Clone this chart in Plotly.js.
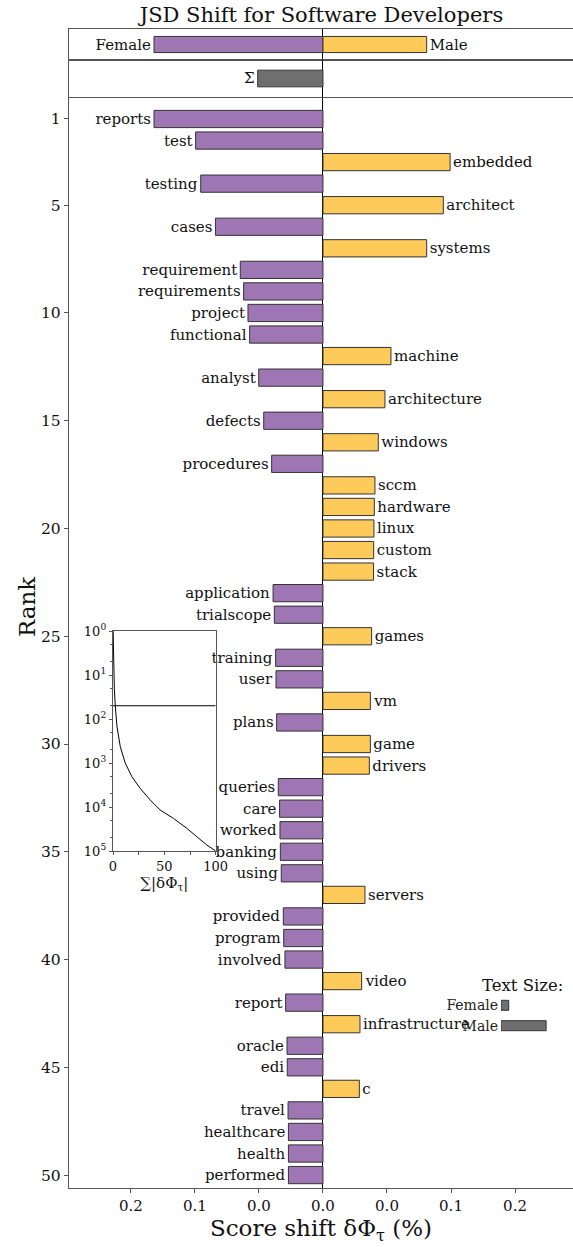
<!DOCTYPE html>
<html><head><meta charset="utf-8">
<script src="https://cdn.plot.ly/plotly-3.0.1.min.js"></script>
<style>html,body{margin:0;padding:0;background:#fff}</style>
</head><body><div id="chart" style="width:573px;height:1247px"></div>
<script>
// ---- data ----
const words = ["reports","test","embedded","testing","architect","cases","systems","requirement","requirements","project",
  "functional","machine","analyst","architecture","defects","windows","procedures","sccm","hardware","linux",
  "custom","stack","application","trialscope","games","training","user","vm","plans","game",
  "drivers","queries","care","worked","banking","using","servers","provided","program","involved",
  "video","report","infrastructure","oracle","edi","c","travel","healthcare","health","performed"];
// signed score shift (%): negative = Female, positive = Male
const shifts = [-0.132,-0.0995,0.0993,-0.0955,0.094,-0.084,0.081,-0.0646,-0.062,-0.0586,
  -0.0573,0.0531,-0.0502,0.0484,-0.0463,0.0432,-0.0401,0.0406,0.0401,0.0398,
  0.0396,0.0395,-0.039,-0.038,0.038,-0.037,-0.0367,0.037,-0.0362,0.037,
  0.0362,-0.0349,-0.0339,-0.0336,-0.0333,-0.0326,0.0328,-0.031,-0.0307,-0.0297,
  0.0302,-0.0292,0.0289,-0.0281,-0.0279,0.0284,-0.0273,-0.027,-0.027,-0.027];
const ranks = words.map((w,i)=>i+1);

const totalLabels = ["Female","Male"];
const totalShifts = [-0.132, 0.081];
const sumLabel = ["Σ"];
const sumShift = [-0.051];

const xTickVals = [-0.15,-0.1,-0.05,0,0.05,0.1,0.15];
const xTickText = ["0.2","0.1","0.0","0.0","0.0","0.1","0.2"];
const rankTicks = [1,5,10,15,20,25,30,35,40,45,50];

// inset: cumulative |shift| (%) vs rank
const cumRank = [1,2,3,5,9,20,50,150,426,1000,2050,3780,6930,11700,18100,30400,47300,73000,100000];
const cumShift = [0.13,0.23,0.33,0.52,0.8,1.3,2.2,3.9,7.1,11.9,18.4,26.5,36.2,45.9,58.8,71.8,81.6,91.3,100];
const insetYTicks = [1,10,100,1000,10000,100000];
const insetYText = ["10<sup>0</sup>","10<sup>1</sup>","10<sup>2</sup>","10<sup>3</sup>","10<sup>4</sup>","10<sup>5</sup>"];

const sizeLabels = ["Female","Male"];
const sizeValues = [1, 5.85];

// ---- styles ----
const PURPLE = "#9e76b4", YELLOW = "#fecb5b", GRAY = "#6f6f6f", EDGE = "#333333";
const FONT = "DejaVu Serif";
const W = 573, H = 1247;
const px = v => v / W, py = v => 1 - v / H;

const colors = shifts.map(v => v < 0 ? PURPLE : YELLOW);
const LBL = {family:FONT, size:15, color:"#111"};

const traces = [
  { type:"bar", orientation:"h", x:shifts, y:ranks, text:words, textposition:"outside",
    marker:{color:colors, line:{color:EDGE, width:1}}, width:0.8, cliponaxis:false,
    constraintext:"none", outsidetextfont:LBL, xaxis:"x", yaxis:"y", hoverinfo:"skip" },
  { type:"bar", orientation:"h", x:totalShifts, y:[0,0], text:totalLabels, textposition:"outside",
    marker:{color:[PURPLE,YELLOW], line:{color:EDGE, width:1}}, width:0.52, cliponaxis:false,
    constraintext:"none", outsidetextfont:LBL, xaxis:"x2", yaxis:"y2", hoverinfo:"skip" },
  { type:"bar", orientation:"h", x:sumShift, y:[0], text:sumLabel, textposition:"outside",
    marker:{color:[GRAY], line:{color:EDGE, width:1}}, width:0.45, cliponaxis:false,
    constraintext:"none", outsidetextfont:LBL, xaxis:"x3", yaxis:"y3", hoverinfo:"skip" },
  { type:"scatter", mode:"lines", x:cumShift, y:cumRank, line:{color:"#000", width:1},
    xaxis:"x4", yaxis:"y4", hoverinfo:"skip" },
  { type:"scatter", mode:"lines", x:[0,100], y:[words.length, words.length], line:{color:"#000", width:1},
    xaxis:"x4", yaxis:"y4", hoverinfo:"skip" },
  { type:"bar", orientation:"h", x:sizeValues, y:[0,1], marker:{color:GRAY, line:{color:EDGE, width:1}},
    width:0.49, xaxis:"x5", yaxis:"y5", hoverinfo:"skip" }
];

const xMain = [-0.1984, 0.1953];
const spine = "#555";
const layout = {
  width:W, height:H, margin:{l:0,r:0,t:0,b:0}, showlegend:false,
  paper_bgcolor:"#fff", plot_bgcolor:"rgba(0,0,0,0)", barmode:"overlay",
  font:{family:FONT, color:"#111"},
  title:{text:"JSD Shift for Software Developers", font:{family:FONT, size:21, color:"#111"},
    x:0.561, xanchor:"center", y:py(15), yanchor:"middle", yref:"container", xref:"container"},
  xaxis:{domain:[px(69),1], range:xMain, tickvals:xTickVals, ticktext:xTickText,
    ticks:"outside", ticklen:4, tickcolor:spine, showline:true, linecolor:spine, linewidth:1.2,
    mirror:false, showgrid:false, zeroline:true, zerolinecolor:"#000", zerolinewidth:1,
    tickfont:{family:FONT, size:15, color:"#111"},
    title:{text:"Score shift δΦ<sub>τ</sub> (%)", font:{family:FONT, size:23, color:"#111"}, standoff:4},
    anchor:"y"},
  yaxis:{domain:[py(1188), py(97)], range:[50.6,-0.02], tickvals:rankTicks,
    ticks:"outside", ticklen:4, tickcolor:spine, showline:true, linecolor:spine, linewidth:1.2,
    showgrid:false, zeroline:false, tickfont:{family:FONT, size:15.5, color:"#111"}, anchor:"x"},
  xaxis2:{domain:[px(69),1], range:xMain, showticklabels:false, ticks:"", showgrid:false,
    zeroline:true, zerolinecolor:"#000", zerolinewidth:1, showline:true, linecolor:spine, linewidth:1.2,
    mirror:true, anchor:"y2"},
  yaxis2:{domain:[py(60), py(29)], range:[-0.5,0.5], showticklabels:false, ticks:"", showgrid:false,
    zeroline:false, showline:true, linecolor:spine, linewidth:1.2, mirror:true, anchor:"x2"},
  xaxis3:{domain:[px(69),1], range:xMain, showticklabels:false, ticks:"", showgrid:false,
    zeroline:true, zerolinecolor:"#000", zerolinewidth:1, showline:true, linecolor:spine, linewidth:1.2,
    mirror:true, anchor:"y3"},
  yaxis3:{domain:[py(97), py(60)], range:[-0.5,0.5], showticklabels:false, ticks:"", showgrid:false,
    zeroline:false, showline:true, linecolor:spine, linewidth:1.2, mirror:true, anchor:"x3"},
  xaxis4:{domain:[px(113), px(215.7)], range:[0,100], tickvals:[0,50,100],
    ticks:"outside", ticklen:3, tickcolor:spine, minor:{dtick:25, ticks:"outside", ticklen:3, tickcolor:spine},
    showline:true, linecolor:spine, linewidth:1.2, mirror:true, showgrid:false, zeroline:false,
    tickfont:{family:FONT, size:13, color:"#111"},
    title:{text:"∑|δΦ<sub>τ</sub>|", font:{family:FONT, size:15, color:"#111"}, standoff:4}, anchor:"y4"},
  yaxis4:{domain:[py(851), py(631)], type:"log", range:[5,0], tickvals:insetYTicks, ticktext:insetYText,
    ticks:"outside", ticklen:3, tickcolor:spine,
    minor:{ticks:"outside", ticklen:2, tickcolor:spine, showgrid:false},
    showline:true, linecolor:spine, linewidth:1.2, mirror:true, showgrid:false, zeroline:false,
    tickfont:{family:FONT, size:13, color:"#111"}, anchor:"x4"},
  xaxis5:{domain:[px(501), px(555)], range:[0,7], visible:false, anchor:"y5"},
  yaxis5:{domain:[py(1035.9), py(995.1)], range:[1.5,-0.5], tickvals:[0,1], ticktext:sizeLabels,
    showline:false, ticks:"", showgrid:false, zeroline:false, ticklabelstandoff:2,
    tickfont:{family:FONT, size:14, color:"#222"}, anchor:"x5"},
  annotations:[
    {text:"Rank", xref:"paper", yref:"paper", x:px(27), y:py(607), textangle:-90, showarrow:false,
      font:{family:FONT, size:23, color:"#111"}, xanchor:"center", yanchor:"middle"},
    {text:"Text Size:", xref:"paper", yref:"paper", x:px(565), y:py(985), showarrow:false,
      font:{family:FONT, size:16.5, color:"#111"}, xanchor:"right", yanchor:"middle"}
  ]
};

Plotly.newPlot("chart", traces, layout, {staticPlot:true, displayModeBar:false});
</script></body></html>
